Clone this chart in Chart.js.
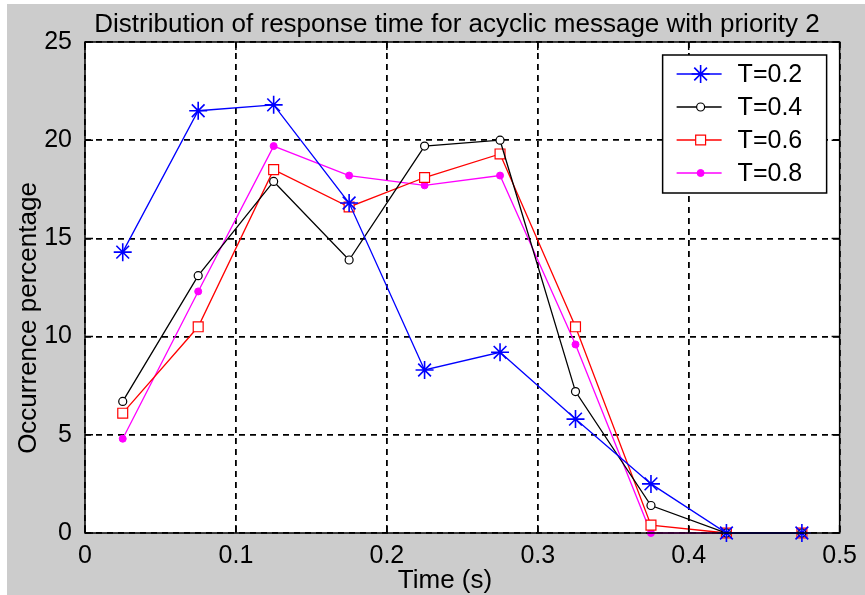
<!DOCTYPE html>
<html>
<head>
<meta charset="utf-8">
<script src="https://cdn.jsdelivr.net/npm/chart.js@4.4.1/dist/chart.umd.min.js"></script>
<style>
  html, body { margin: 0; padding: 0; background: #ffffff; }
  #wrap { width: 865px; height: 595px; }
</style>
</head>
<body>
<div id="wrap"><canvas id="respChart" width="865" height="595"></canvas></div>
<script>
'use strict';

var timeBins = [0.025, 0.075, 0.125, 0.175, 0.225, 0.275, 0.325, 0.375, 0.425, 0.475];
var seriesNames = ['T=0.2', 'T=0.4', 'T=0.6', 'T=0.8'];
var valuesT02 = [14.3, 21.5, 21.8, 16.8, 8.3, 9.2, 5.8, 2.5, 0, 0];
var valuesT04 = [6.7, 13.1, 17.9, 13.9, 19.7, 20.0, 7.2, 1.4, 0, 0];
var valuesT06 = [6.1, 10.5, 18.5, 16.6, 18.1, 19.3, 10.5, 0.4, 0, 0];
var valuesT08 = [4.8, 12.3, 19.7, 18.2, 17.7, 18.2, 9.6, 0, 0, 0];
var xTicks = [0, 0.1, 0.2, 0.3, 0.4, 0.5];
var yTicks = [0, 5, 10, 15, 20, 25];

var SANS = '"Liberation Sans", Arial, sans-serif';
var chartTitle = 'Distribution of response time for acyclic message with priority 2';
var xTitle = 'Time (s)';
var yTitle = 'Occurrence percentage';

function toPoints(vals) {
  return vals.map(function (v, i) { return { x: timeBins[i], y: v }; });
}

var styles = [
  { color: '#0000ff', pointStyle: 'star', radius: 9, fill: '#0000ff', bw: 1.6 },
  { color: '#000000', pointStyle: 'circle', radius: 4, fill: '#ffffff', bw: 1.2 },
  { color: '#ff0000', pointStyle: 'rect', radius: 7, fill: '#ffffff', bw: 1.2 },
  { color: '#ff00ff', pointStyle: 'circle', radius: 3.5, fill: '#ff00ff', bw: 1 }
];
var allValues = [valuesT02, valuesT04, valuesT06, valuesT08];

var datasets = allValues.map(function (vals, i) {
  var s = styles[i];
  return {
    label: seriesNames[i],
    data: toPoints(vals),
    borderColor: s.color,
    borderWidth: 1.3,
    pointStyle: s.pointStyle,
    pointRadius: s.radius,
    pointBackgroundColor: s.fill,
    pointBorderColor: s.color,
    pointBorderWidth: s.bw,
    tension: 0,
    clip: false
  };
});

var matlabFrame = {
  id: 'matlabFrame',
  beforeDraw: function (chart) {
    var ctx = chart.ctx, a = chart.chartArea;
    ctx.save();
    ctx.fillStyle = '#ffffff';
    ctx.fillRect(0, 0, chart.width, chart.height);
    ctx.fillStyle = '#cccccc';
    ctx.fillRect(7, 4, chart.width - 7, chart.height - 4);
    ctx.fillStyle = '#ffffff';
    ctx.fillRect(a.left, a.top, a.right - a.left, a.bottom - a.top);
    ctx.restore();
  },
  afterDraw: function (chart) {
    var ctx = chart.ctx, a = chart.chartArea;
    var xs = chart.scales.x, ys = chart.scales.y;
    ctx.save();
    ctx.strokeStyle = '#000000';
    ctx.lineWidth = 1.5;
    ctx.strokeRect(a.left, a.top, a.right - a.left, a.bottom - a.top);

    // inward tick marks on all four sides
    ctx.beginPath();
    xTicks.forEach(function (v) {
      var px = xs.getPixelForValue(v);
      ctx.moveTo(px, a.bottom); ctx.lineTo(px, a.bottom - 8);
      ctx.moveTo(px, a.top); ctx.lineTo(px, a.top + 8);
    });
    yTicks.forEach(function (v) {
      var py = ys.getPixelForValue(v);
      ctx.moveTo(a.left, py); ctx.lineTo(a.left + 8, py);
      ctx.moveTo(a.right, py); ctx.lineTo(a.right - 8, py);
    });
    ctx.stroke();

    // titles
    ctx.fillStyle = '#000000';
    ctx.font = '26px ' + SANS;
    ctx.textAlign = 'center';
    ctx.textBaseline = 'alphabetic';
    ctx.fillText(chartTitle, 457, 32);
    ctx.fillText(xTitle, 445, 588);
    ctx.save();
    ctx.translate(36, 318);
    ctx.rotate(-Math.PI / 2);
    ctx.fillText(yTitle, 0, 0);
    ctx.restore();

    // legend box
    var bx = a.right - 177, by = a.top + 13, bw = 164, bh = 138;
    ctx.fillStyle = '#ffffff';
    ctx.fillRect(bx, by, bw, bh);
    ctx.lineWidth = 1.5;
    ctx.strokeRect(bx, by, bw, bh);
    ctx.font = '25px ' + SANS;
    ctx.textBaseline = 'middle';
    ctx.textAlign = 'left';
    chart.data.datasets.forEach(function (ds, i) {
      var y = by + 19 + i * 33;
      ctx.strokeStyle = ds.borderColor;
      ctx.lineWidth = 1.5;
      ctx.beginPath();
      ctx.moveTo(bx + 14, y);
      ctx.lineTo(bx + 59, y);
      ctx.stroke();
      ctx.fillStyle = ds.pointBackgroundColor;
      ctx.strokeStyle = ds.pointBorderColor;
      ctx.lineWidth = ds.pointBorderWidth;
      Chart.helpers.drawPoint(ctx, { pointStyle: ds.pointStyle, radius: ds.pointRadius, rotation: 0, borderWidth: ds.pointBorderWidth }, bx + 38, y);
      ctx.fillStyle = '#000000';
      ctx.fillText(ds.label, bx + 75, y + 1);
    });
    ctx.restore();
  }
};

new Chart(document.getElementById('respChart').getContext('2d'), {
  type: 'line',
  data: { datasets: datasets },
  options: {
    animation: false,
    responsive: false,
    layout: { padding: { left: 0, right: 20, top: 42, bottom: 0 } },
    scales: {
      x: {
        type: 'linear', min: 0, max: 0.5,
        afterBuildTicks: function (s) { s.ticks = xTicks.map(function (v) { return { value: v }; }); },
        afterFit: function (s) { s.height = 62; },
        grid: { color: '#000000', lineWidth: 1.8, drawTicks: false },
        border: { display: false, dash: [6, 5] },
        ticks: { color: '#000000', font: { family: SANS, size: 25 }, padding: 8, maxRotation: 0,
          callback: function (v) { return String(v); } }
      },
      y: {
        min: 0, max: 25,
        afterBuildTicks: function (s) { s.ticks = yTicks.map(function (v) { return { value: v }; }); },
        afterFit: function (s) { s.width = 85; },
        grid: { color: '#000000', lineWidth: 1.8, drawTicks: false },
        border: { display: false, dash: [6, 5] },
        ticks: { color: '#000000', font: { family: SANS, size: 25 }, padding: 13 }
      }
    },
    plugins: {
      legend: { display: false },
      tooltip: { enabled: false },
      title: { display: false }
    }
  },
  plugins: [matlabFrame]
});
</script>
</body>
</html>
